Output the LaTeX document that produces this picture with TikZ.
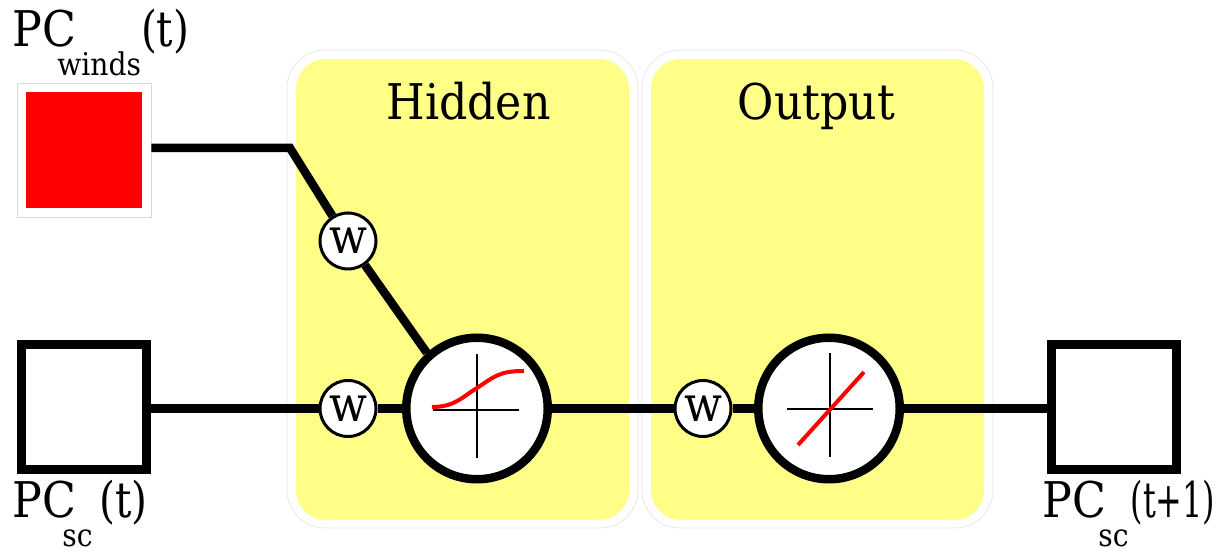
\documentclass[tikz,border=0pt]{standalone}
\usepackage{fontspec}
\setmainfont[FakeStretch=0.9]{DejaVu Serif}
\usepackage{tikz}
\usetikzlibrary{positioning}
\definecolor{panelyellow}{RGB}{255,255,136}
\tikzset{font=\fontsize{14pt}{17pt}\selectfont}
\tikzset{
  wire/.style={line width=0.085cm},
  outerpanel/.style={rectangle, draw=black!10, line width=0.2pt, fill=white, rounded corners=0.38cm,
    minimum width=3.51cm, minimum height=4.78cm},
  innerpanel/.style={rectangle, fill=panelyellow, rounded corners=0.3cm,
    minimum width=3.33cm, minimum height=4.61cm},
  pcbox/.style={rectangle, draw=black, line width=0.09cm, fill=white, minimum size=1.25cm},
  activation/.style={circle, draw=black, line width=0.085cm, fill=white, minimum size=1.415cm},
  weight/.style={circle, draw=black, line width=0.03cm, fill=white, inner sep=0pt, minimum size=0.56cm},
  axisline/.style={black, line width=0.012cm},
  curveline/.style={red, line width=0.04cm},
  pclabel/.style={anchor=base west, inner sep=0pt},
}
\newcommand{\pcsub}[3]{\hspace{#1cm}\raisebox{-0.285cm}{\fontsize{8.9pt}{11pt}\selectfont #2}\hspace{#3cm}}
\newcommand{\pcarg}[2]{\scalebox{#1}[1]{#2}}

\begin{document}
\begin{tikzpicture}
  \useasboundingbox (0,0) rectangle (12.27,5.52);

  % panels
  \foreach \x/\name in {4.625/hidden,8.175/output} {
    \node[outerpanel] (\name frame) at (\x,2.63) {};
    \node[innerpanel] (\name panel) at (\x,2.625) {};
  }
  \node[anchor=base] (hiddentitle) at (4.685,4.32) {Hidden};
  \node[anchor=base] (outputtitle) at (8.165,4.32) {Output};

  % boxes
  \node[rectangle, draw=black!15, line width=0.2pt, fill=white, minimum size=1.34cm] (winds) at (0.84,4.02) {};
  \node[rectangle, fill=red, minimum size=1.16cm] (windsfill) at (0.84,4.02) {};
  \node[pcbox] (scin) at (0.84,1.45) {};
  \node[pcbox] (scout) at (11.14,1.45) {};

  % activations and weights
  \node[activation] (hiddenact) at (4.77,1.435) {};
  \node[activation] (outputact) at (8.29,1.435) {};
  \foreach \x/\y/\name in {3.48/3.11/wwinds,3.48/1.435/wsc,7.03/1.435/whidden}
    \node[weight] (\name) at (\x,\y) {w};

  % connectors
  \coordinate (bend) at (2.90,4.04);
  \draw[wire] (winds.east |- bend) -- (bend) -- (wwinds);
  \draw[wire] (wwinds) -- (hiddenact.132);
  \draw[wire] (scin.east |- wsc) -- (wsc);
  \draw[wire] (wsc) -- (hiddenact);
  \draw[wire] (hiddenact) -- (whidden);
  \draw[wire] (whidden) -- (outputact);
  \draw[wire] (outputact) -- (scout.west |- outputact);

  % curves
  \draw[axisline] (4.33,1.42) -- (5.19,1.42);
  \draw[axisline] (4.77,1.98) -- (4.77,0.94);
  \draw[curveline] (4.32,1.45) .. controls (4.55,1.45) and (4.62,1.55) .. (4.77,1.64)
    .. controls (4.95,1.76) and (5.0,1.81) .. (5.24,1.81);
  \draw[axisline] (7.87,1.43) -- (8.73,1.43);
  \draw[axisline] (8.30,1.99) -- (8.30,0.95);
  \draw[curveline] (7.98,1.07) -- (8.64,1.80);

  % labels
  \node[pclabel] (windslabel) at (0.12,5.05) {PC\pcsub{-0.19}{winds}{0}\pcarg{0.92}{(t)}};
  \node[pclabel] (sclabel) at (0.12,0.34) {PC\pcsub{-0.14}{sc}{0.07}\pcarg{0.92}{(t)}};
  \node[pclabel] (nextlabel) at (10.42,0.34) {PC\pcsub{-0.08}{sc}{0.02}\pcarg{0.72}{(t+1)}};
\end{tikzpicture}
\end{document}
